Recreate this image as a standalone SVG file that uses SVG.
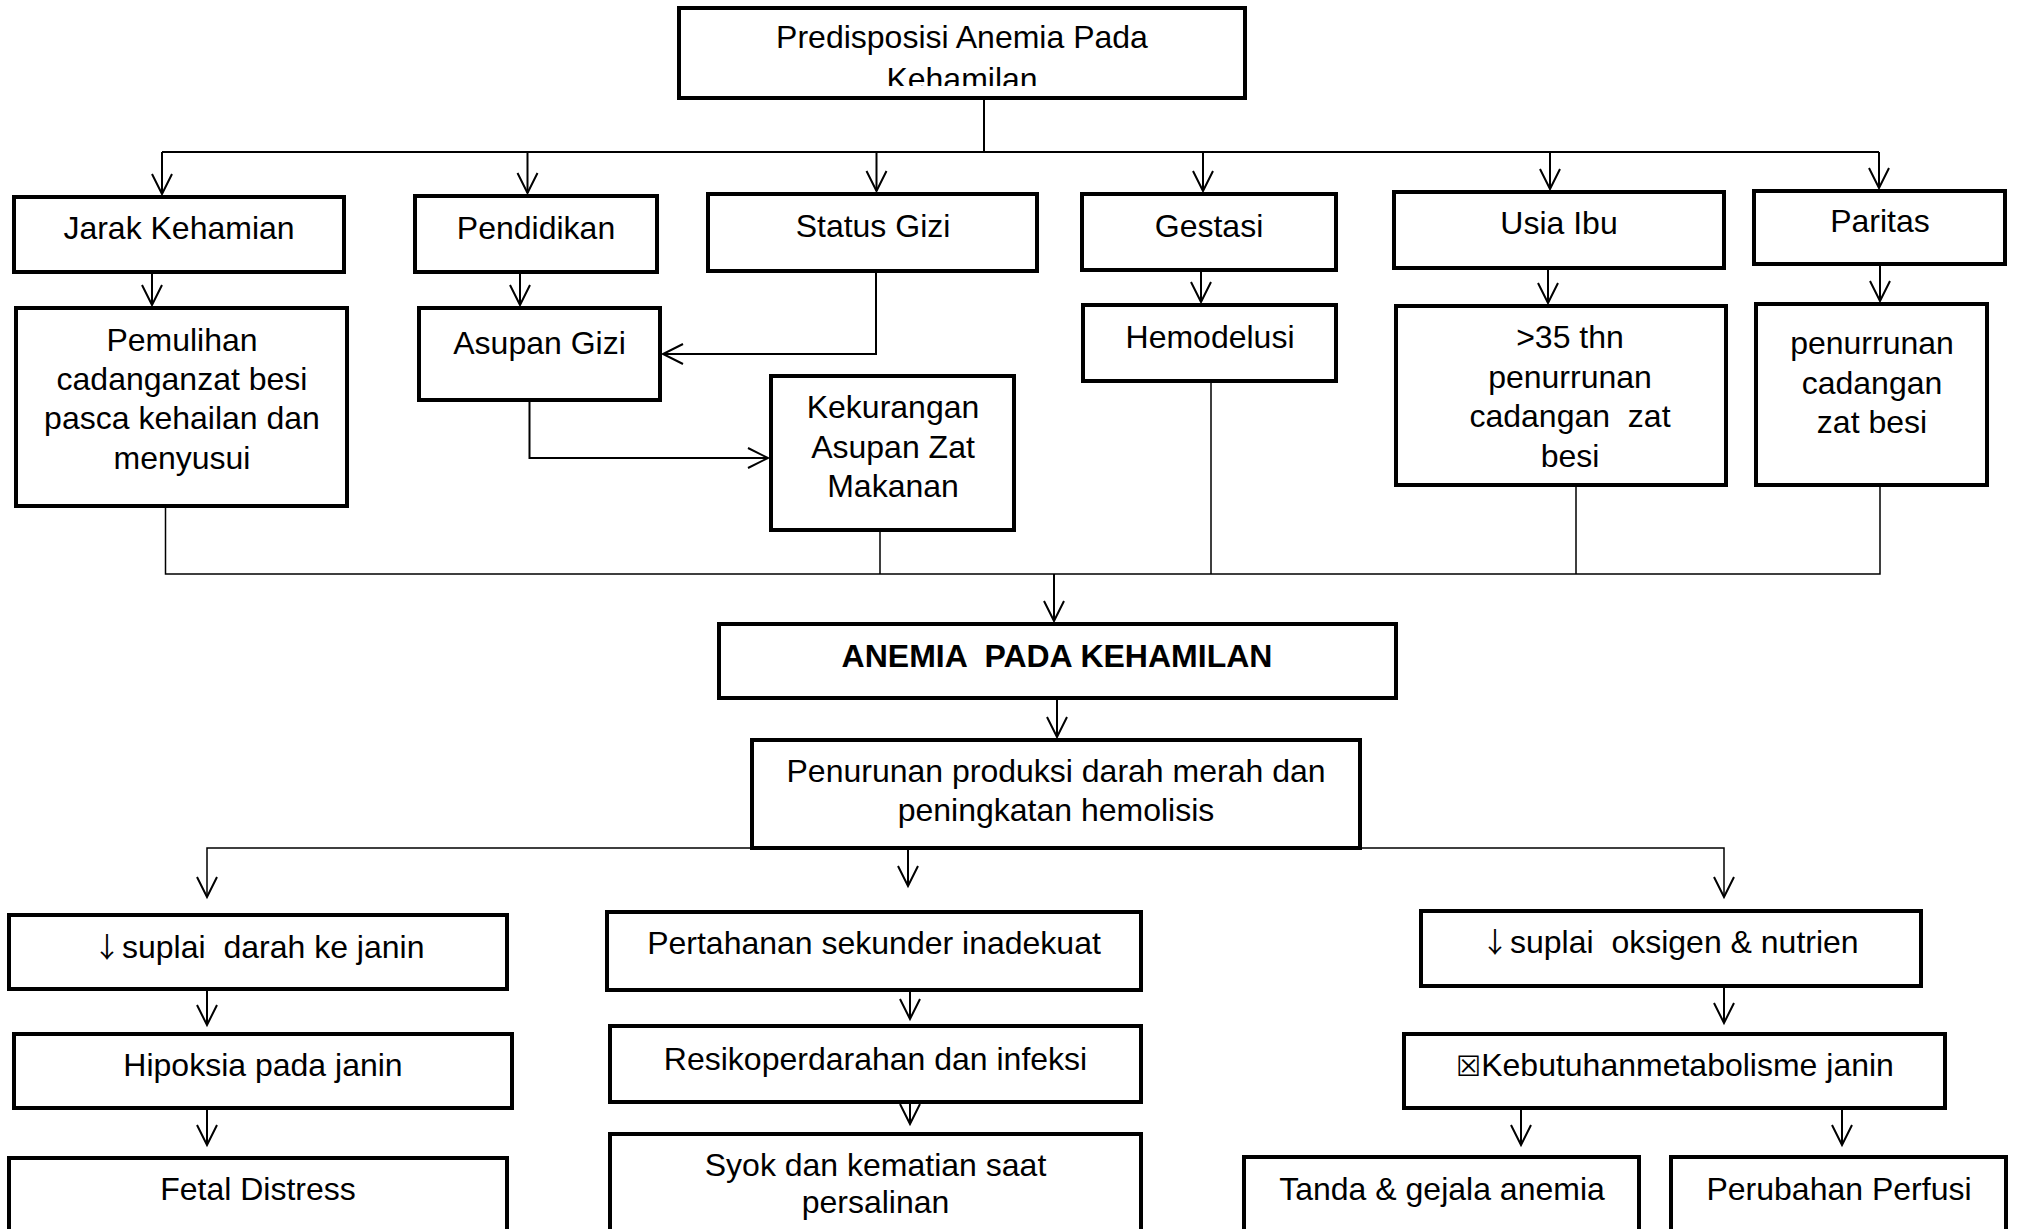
<svg xmlns="http://www.w3.org/2000/svg" width="2017" height="1229" viewBox="0 0 2017 1229">
<style>
.b{fill:#fff;stroke:#000;stroke-width:4}
.t{font-family:"Liberation Sans",Arial,sans-serif;font-size:32px;fill:#000;text-anchor:middle;white-space:pre}
.s{text-anchor:start}
.bold{font-weight:bold}
.c{fill:none;stroke:#000;stroke-width:2}
.c1{fill:none;stroke:#000;stroke-width:1.5}
.sym{font-family:"DejaVu Sans",sans-serif;font-size:28px;font-weight:bold}
.arw{font-family:"Noto Sans CJK JP","Noto Sans",sans-serif;font-size:28px}
</style>
<defs>
<marker id="arr" markerUnits="userSpaceOnUse" markerWidth="26" markerHeight="26" viewBox="-23 -13 26 26" refX="0" refY="0" orient="auto" overflow="visible">
<path d="M-20,-10 L0,0 L-20,10" fill="none" stroke="#000" stroke-width="2"/>
</marker>
<clipPath id="clipTop"><rect x="681" y="10" width="562" height="76"/></clipPath>
</defs>
<rect width="2017" height="1229" fill="#fff"/>

<g id="connectors">
<path class="c" d="M984,98 V152 M162,152 H1879"/>
<path class="c" d="M162,152 V194" marker-end="url(#arr)"/>
<path class="c" d="M527.5,152 V193" marker-end="url(#arr)"/>
<path class="c" d="M876.5,152 V191" marker-end="url(#arr)"/>
<path class="c" d="M1203,152 V191" marker-end="url(#arr)"/>
<path class="c" d="M1550,152 V189" marker-end="url(#arr)"/>
<path class="c" d="M1879,152 V188" marker-end="url(#arr)"/>
<path class="c" d="M152,272 V305" marker-end="url(#arr)"/>
<path class="c" d="M520,272 V305" marker-end="url(#arr)"/>
<path class="c" d="M1201,270 V302" marker-end="url(#arr)"/>
<path class="c" d="M1548,268 V303" marker-end="url(#arr)"/>
<path class="c" d="M1880,264 V301" marker-end="url(#arr)"/>
<path class="c" d="M876,271 V354 H663" marker-end="url(#arr)"/>
<path class="c" d="M529.5,400 V458 H768" marker-end="url(#arr)"/>
<path class="c1" d="M165.5,506 V574 H1880 V485 M880,530 V574 M1211,381 V574 M1576,485 V574"/>
<path class="c" d="M1054,574 V621" marker-end="url(#arr)"/>
<path class="c" d="M1057,698 V737" marker-end="url(#arr)"/>
<path class="c1" d="M752,848 H207 V897" marker-end="url(#arr)"/>
<path class="c" d="M908,848 V886" marker-end="url(#arr)"/>
<path class="c1" d="M1360,848 H1724 V897" marker-end="url(#arr)"/>
<path class="c" d="M207,989 V1025" marker-end="url(#arr)"/>
<path class="c" d="M910,990 V1019" marker-end="url(#arr)"/>
<path class="c" d="M1724,986 V1023" marker-end="url(#arr)"/>
<path class="c" d="M207,1108 V1145" marker-end="url(#arr)"/>
<path class="c" d="M910,1102 V1124" marker-end="url(#arr)"/>
<path class="c" d="M1521,1108 V1145" marker-end="url(#arr)"/>
<path class="c" d="M1842,1108 V1145" marker-end="url(#arr)"/>
</g>

<g id="predisposisi">
<rect class="b" x="679" y="8" width="566" height="90"/>
<g clip-path="url(#clipTop)">
<text class="t" x="962" y="48">Predisposisi Anemia Pada</text>
<text class="t" x="962" y="90">Kehamilan</text>
</g>
</g>

<g id="jarak"><rect class="b" x="14" y="197" width="330" height="75"/><text class="t" x="179" y="239">Jarak Kehamian</text></g>
<g id="pendidikan"><rect class="b" x="415" y="196" width="242" height="76"/><text class="t" x="536" y="239">Pendidikan</text></g>
<g id="status-gizi"><rect class="b" x="708" y="194" width="329" height="77"/><text class="t" x="873" y="237">Status Gizi</text></g>
<g id="gestasi"><rect class="b" x="1082" y="194" width="254" height="76"/><text class="t" x="1209" y="237">Gestasi</text></g>
<g id="usia-ibu"><rect class="b" x="1394" y="192" width="330" height="76"/><text class="t" x="1559" y="234">Usia Ibu</text></g>
<g id="paritas"><rect class="b" x="1754" y="191" width="251" height="73"/><text class="t" x="1880" y="232">Paritas</text></g>

<g id="pemulihan"><rect class="b" x="16" y="308" width="331" height="198"/>
<text class="t" x="182" y="351">Pemulihan</text>
<text class="t" x="182" y="390">cadanganzat besi</text>
<text class="t" x="182" y="429">pasca kehailan dan</text>
<text class="t" x="182" y="469">menyusui</text></g>
<g id="asupan-gizi"><rect class="b" x="419" y="308" width="241" height="92"/><text class="t" x="539.5" y="354">Asupan Gizi</text></g>
<g id="kekurangan"><rect class="b" x="771" y="376" width="243" height="154"/>
<text class="t" x="893" y="418">Kekurangan</text>
<text class="t" x="893" y="457.5">Asupan Zat</text>
<text class="t" x="893" y="497">Makanan</text></g>
<g id="hemodelusi"><rect class="b" x="1083" y="305" width="253" height="76"/><text class="t" x="1210" y="348">Hemodelusi</text></g>
<g id="usia-35"><rect class="b" x="1396" y="306" width="330" height="179"/>
<text class="t" x="1570" y="348">&gt;35 thn</text>
<text class="t" x="1570" y="387.5">penurrunan</text>
<text class="t" x="1570" y="427">cadangan  zat</text>
<text class="t" x="1570" y="466.5">besi</text></g>
<g id="penurunan-cadangan"><rect class="b" x="1756" y="304" width="231" height="181"/>
<text class="t" x="1872" y="354">penurrunan</text>
<text class="t" x="1872" y="393.5">cadangan</text>
<text class="t" x="1872" y="433">zat besi</text></g>

<g id="anemia"><rect class="b" x="719" y="624" width="677" height="74"/><text class="t bold" x="1057" y="667">ANEMIA  PADA KEHAMILAN</text></g>
<g id="penurunan-produksi"><rect class="b" x="752" y="740" width="608" height="108"/>
<text class="t" x="1056" y="782">Penurunan produksi darah merah dan</text>
<text class="t" x="1056" y="821">peningkatan hemolisis</text></g>

<g id="suplai-darah"><rect class="b" x="9" y="915" width="498" height="74"/><text class="t s" x="93" y="958"><tspan class="arw">↓</tspan><tspan x="122">suplai  darah ke janin</tspan></text></g>
<g id="pertahanan"><rect class="b" x="607" y="912" width="534" height="78"/><text class="t" x="874" y="954">Pertahanan sekunder inadekuat</text></g>
<g id="suplai-oksigen"><rect class="b" x="1421" y="911" width="500" height="75"/><text class="t s" x="1481" y="952.5"><tspan class="arw">↓</tspan><tspan x="1510">suplai  oksigen &amp; nutrien</tspan></text></g>
<g id="hipoksia"><rect class="b" x="14" y="1034" width="498" height="74"/><text class="t" x="263" y="1076">Hipoksia pada janin</text></g>
<g id="resiko"><rect class="b" x="610" y="1026" width="531" height="76"/><text class="t" x="875.5" y="1070">Resikoperdarahan dan infeksi</text></g>
<g id="kebutuhan"><rect class="b" x="1404" y="1034" width="541" height="74"/><text class="t" x="1675" y="1076"><tspan class="sym">☒</tspan>Kebutuhanmetabolisme janin</text></g>
<g id="fetal-distress"><rect class="b" x="9" y="1158" width="498" height="100"/><text class="t" x="258" y="1200">Fetal Distress</text></g>
<g id="syok"><rect class="b" x="610" y="1134" width="531" height="120"/>
<text class="t" x="875.5" y="1176">Syok dan kematian saat</text>
<text class="t" x="875.5" y="1213">persalinan</text></g>
<g id="tanda"><rect class="b" x="1244" y="1157" width="395" height="100"/><text class="t" x="1442" y="1200">Tanda &amp; gejala anemia</text></g>
<g id="perubahan"><rect class="b" x="1671" y="1157" width="335" height="100"/><text class="t" x="1839" y="1200">Perubahan Perfusi</text></g>
</svg>
